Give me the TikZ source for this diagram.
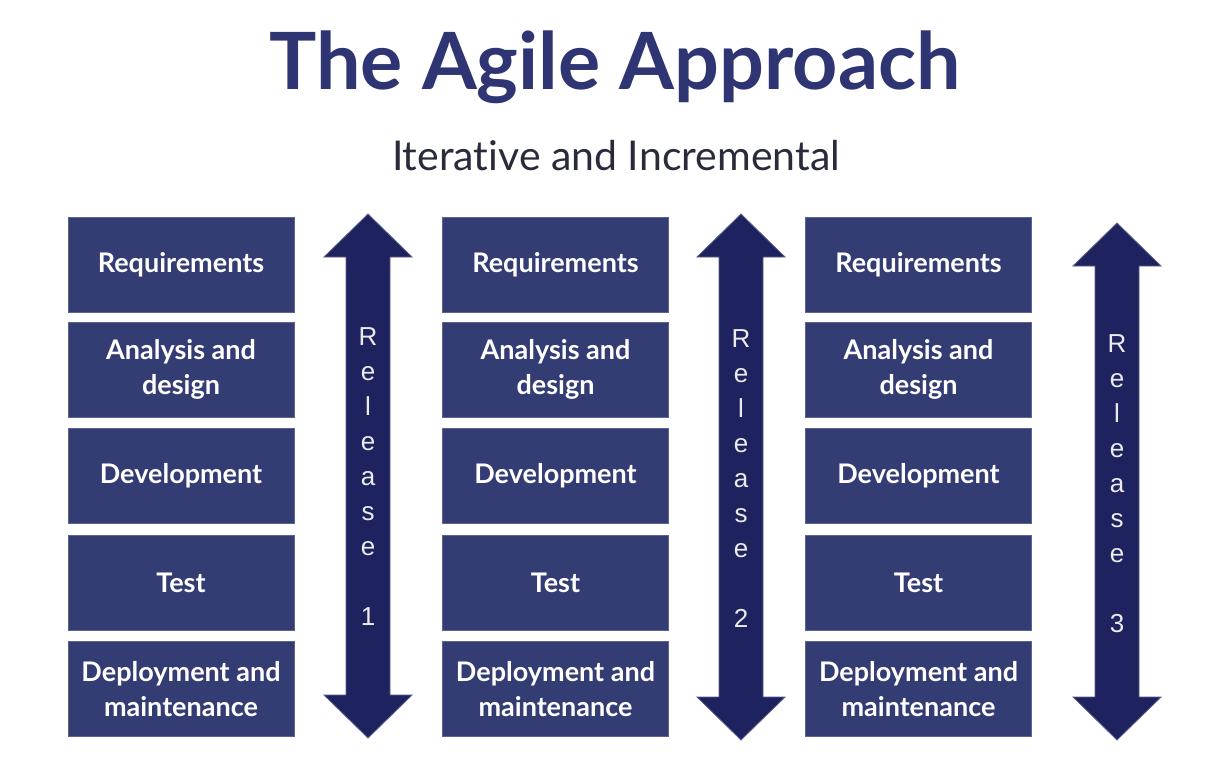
\documentclass[tikz,border=0pt]{standalone}
\usepackage{fontspec}
\setmainfont{Lato}[Ligatures=NoCommon]
\newfontfamily\relfont{Liberation Sans}
\definecolor{boxblue}{HTML}{343C74}
\definecolor{arrowblue}{HTML}{1E2360}
\definecolor{arrowedge}{HTML}{5A5F8A}
\definecolor{titleblue}{HTML}{2E3572}
\definecolor{subgray}{HTML}{2A2B3A}
\begin{document}
\begin{tikzpicture}[x=1pt,y=-1pt,
  phase/.style={fill=boxblue, draw=boxblue!80!white, line width=0.6pt, minimum width=226pt, minimum height=95pt,
    text=white, font=\fontsize{27}{35.5}\selectfont\bfseries, align=center, inner sep=0pt},
  relarrow/.style={fill=arrowblue, draw=arrowedge, line width=0.8pt, line join=miter},
  rellabel/.style={text=white!92!black, font=\relfont\fontsize{26}{35}\selectfont, align=center, inner sep=0pt, anchor=north}]
\useasboundingbox (0,0) rectangle (1220,774);
\fill[white] (0,0) rectangle (1220,774);
\node[text=titleblue, font=\fontsize{79}{82}\selectfont\bfseries] (title) at (615,67) {The Agile Approach};
\node[text=subgray, font=\fontsize{41}{44}\selectfont] (sub) at (616,156) {Iterative and Incremental};
% columns
\foreach \c/\x in {1/181, 2/555.5, 3/918.5}{
  \node[phase] (req\c) at (\x,265) {Requirements};
  \node[phase] (ana\c) at (\x,369.5) {Analysis and\\design};
  \node[phase] (dev\c) at (\x,476) {Development};
  \node[phase] (tst\c) at (\x,582.5) {Test};
  \node[phase] (dep\c) at (\x,689) {Deployment and\\maintenance};
}
% arrows
\foreach \a/\cx/\ty/\by/\hy/\lt in {1/368/214/738/257/327, 2/741/214/740/257/329, 3/1117/223/740/266/334}{
  \draw[relarrow] (\cx,\ty) -- (\cx+44,\hy) -- (\cx+22,\hy) -- (\cx+22,\by-43) -- (\cx+44,\by-43) -- (\cx,\by)
    -- (\cx-44,\by-43) -- (\cx-22,\by-43) -- (\cx-22,\hy) -- (\cx-44,\hy) -- cycle;
  \node[rellabel] (rel\a) at (\cx,\lt) {R\\e\\l\\e\\a\\s\\e\\[35pt]\a};
}
\end{tikzpicture}
\end{document}
